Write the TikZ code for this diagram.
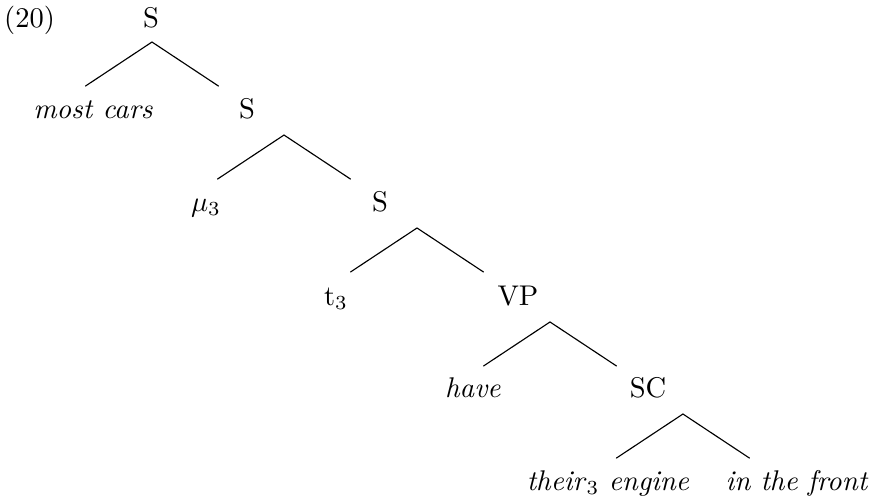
\documentclass[tikz,border=0pt]{standalone}
\usepackage{amsmath, amssymb}
\usepackage{tikz}
\usetikzlibrary{calc}
\usepackage{tkz-euclide}

\begin{document}
\begin{tikzpicture}[scale=1, lbl/.style={anchor=base, inner sep=0pt}]
        \useasboundingbox (0,0) rectangle (10.777,-6.128);
        \tkzDefPoints{1.874/-0.518/A, 3.502/-1.665/B, 5.142/-2.811/C, 6.782/-3.970/D, 8.421/-5.105/E}
        \coordinate (A1) at ($(A)+(-0.82,-0.543)$);
        \coordinate (A2) at ($(A)+(0.82,-0.543)$);
        \coordinate (B1) at ($(B)+(-0.82,-0.543)$);
        \coordinate (B2) at ($(B)+(0.82,-0.543)$);
        \coordinate (C1) at ($(C)+(-0.82,-0.543)$);
        \coordinate (C2) at ($(C)+(0.82,-0.543)$);
        \coordinate (D1) at ($(D)+(-0.82,-0.543)$);
        \coordinate (D2) at ($(D)+(0.82,-0.543)$);
        \coordinate (E1) at ($(E)+(-0.82,-0.543)$);
        \coordinate (E2) at ($(E)+(0.82,-0.543)$);
        \tkzDrawSegments[black, line width=0.4pt](A,A1 A,A2 B,B1 B,B2 C,C1 C,C2 D,D1 D,D2 E,E1 E,E2)
        \node[lbl] (ex) at (0.364,-0.345) {(20)};
        \node[lbl] (s1) at (1.862,-0.345) {S};
        \node[lbl] (mostcars) at (1.147,-1.467) {\textit{most cars}};
        \node[lbl] (s2) at (3.046,-1.467) {S};
        \node[lbl] (mu) at (2.540,-2.602) {$\mu_3$};
        \node[lbl] (s3) at (4.685,-2.602) {S};
        \node[lbl] (trace) at (4.143,-3.761) {t$_3$};
        \node[lbl] (vp) at (6.387,-3.761) {VP};
        \node[lbl] (have) at (5.832,-4.907) {\textit{have}};
        \node[lbl] (sc) at (7.990,-4.907) {SC};
        \node[lbl] (engine) at (7.497,-6.042) {\textit{their}$_3$ \textit{engine}};
        \node[lbl] (front) at (9.827,-6.042) {\textit{in the front}};
    \end{tikzpicture}
\end{document}
